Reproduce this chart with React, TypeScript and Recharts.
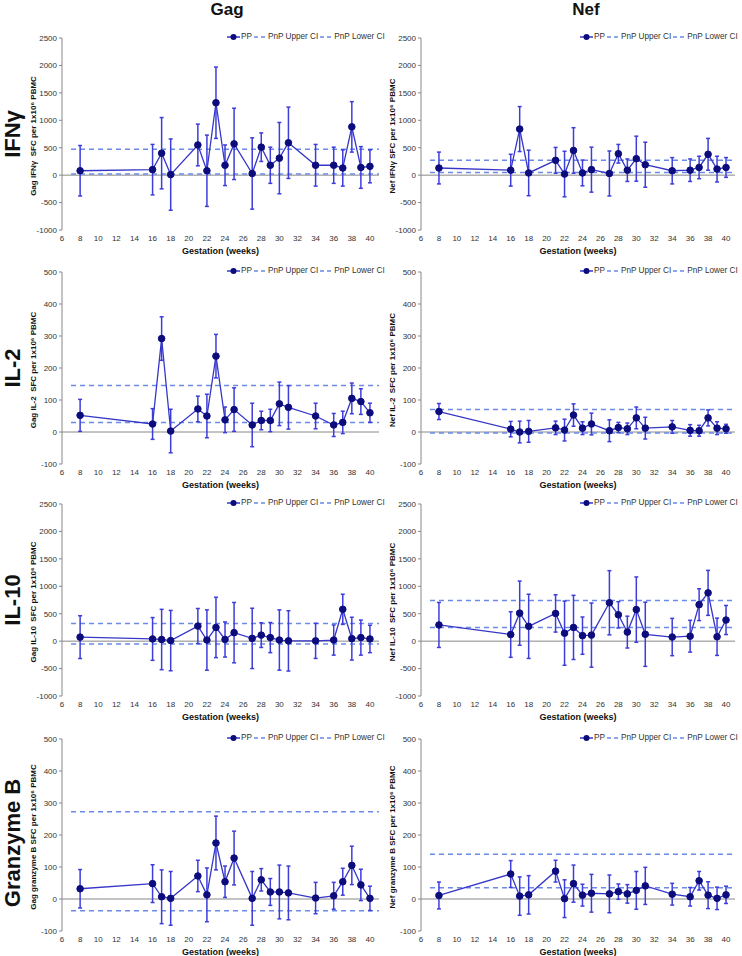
import React from "react";
import { ComposedChart, Line, ErrorBar, XAxis, YAxis, ReferenceLine } from "recharts";

// gestation weeks sampled
const weeks = [8, 16, 17, 18, 21, 22, 23, 24, 25, 27, 28, 29, 30, 31, 34, 36, 37, 38, 39, 40];
const weekTicks = [6, 8, 10, 12, 14, 16, 18, 20, 22, 24, 26, 28, 30, 32, 34, 36, 38, 40];
const wideTicks = [-1000, -500, 0, 500, 1000, 1500, 2000, 2500];
const narrowTicks = [-100, 0, 100, 200, 300, 400, 500];

const gagIfng = [80, 100, 400, 10, 550, 80, 1320, 180, 570, 30, 510, 180, 310, 590, 180, 180, 130, 880, 140, 160];
const gagIfngErr = [460, 460, 650, 650, 380, 650, 650, 370, 650, 650, 260, 330, 650, 650, 380, 330, 330, 460, 380, 300];
const gagIfngCi = [20, 470];

const nefIfng = [130, 90, 840, 40, 270, 20, 450, 40, 100, 30, 390, 90, 300, 190, 80, 90, 140, 380, 110, 140];
const nefIfngErr = [290, 290, 410, 415, 235, 415, 415, 235, 410, 410, 170, 205, 410, 410, 240, 205, 205, 290, 235, 180];
const nefIfngCi = [50, 270];

const gagIl2 = [52, 25, 292, 3, 72, 50, 237, 38, 70, 22, 36, 36, 88, 77, 50, 22, 30, 105, 95, 60];
const gagIl2Err = [50, 48, 68, 68, 40, 68, 68, 40, 68, 68, 29, 35, 68, 68, 40, 36, 35, 48, 40, 30];
const gagIl2Ci = [30, 145];

const nefIl2 = [64, 9, 0, 2, 13, 6, 53, 12, 25, 4, 14, 10, 44, 12, 16, 5, 4, 44, 12, 10];
const nefIl2Err = [25, 24, 34, 34, 21, 34, 35, 20, 34, 34, 16, 18, 34, 34, 20, 18, 17, 25, 20, 14];
const nefIl2Ci = [-3, 70];

const gagIl10 = [73, 40, 30, 10, 275, 20, 250, 30, 155, 50, 110, 65, 20, 5, 5, 20, 580, 45, 65, 40];
const gagIl10Err = [390, 390, 550, 550, 320, 550, 550, 320, 550, 550, 225, 275, 550, 550, 320, 275, 275, 390, 320, 250];
const gagIl10Ci = [-50, 320];

const nefIl10 = [295, 120, 510, 270, 505, 145, 250, 100, 110, 700, 480, 165, 575, 125, 75, 90, 665, 880, 80, 385];
const nefIl10Err = [410, 415, 585, 585, 340, 585, 585, 340, 585, 585, 240, 290, 595, 585, 340, 290, 290, 410, 340, 265];
const nefIl10Ci = [250, 740];

const gagGrb = [32, 48, 7, 2, 72, 13, 175, 54, 128, 2, 60, 22, 22, 19, 3, 10, 54, 105, 44, 2];
const gagGrbErr = [60, 59, 84, 84, 49, 84, 84, 49, 84, 84, 35, 42, 84, 84, 49, 42, 42, 60, 49, 38];
const gagGrbCi = [-37, 273];

const nefGrb = [11, 78, 9, 13, 87, 1, 48, 12, 18, 16, 23, 16, 27, 41, 15, 7, 57, 12, 2, 13];
const nefGrbErr = [42, 42, 60, 60, 34, 59, 58, 34, 59, 59, 24, 29, 59, 58, 34, 29, 29, 42, 35, 27];
const nefGrbCi = [35, 140];

const rowLabels = ["IFNγ", "IL-2", "IL-10", "Granzyme B"];
const plotTops = [38, 272, 504, 739];

const FONT = "Arial, 'Liberation Sans', sans-serif";
const LINE = "#3636c8";
const DOT = "#0c0c7c";
const BAR = "#3d3ddc";
const CI = "#6a8ae6";
const AXIS = "#888";
const PLOT_H = 192;
const Y_W = 30;

function LegendRow({ left, top }: { left: number; top: number }) {
  const dash = (
    <svg width={12} height={8} style={{ margin: "0 2px 0 2px" }}>
      <line x1={0} y1={4} x2={12} y2={4} stroke={CI} strokeWidth={1.5} strokeDasharray="4 3" />
    </svg>
  );
  return (
    <div
      style={{
        position: "absolute",
        left,
        top,
        display: "flex",
        alignItems: "center",
        fontSize: 8.2,
        lineHeight: "12px",
        color: "#333",
        whiteSpace: "nowrap",
        fontFamily: FONT,
      }}
    >
      <svg width={13} height={8} style={{ marginRight: 1 }}>
        <line x1={0} y1={4} x2={13} y2={4} stroke={LINE} strokeWidth={1.5} />
        <circle cx={6.5} cy={4} r={3} fill={DOT} />
      </svg>
      <span>PP</span>
      {dash}
      <span>PnP Upper CI</span>
      {dash}
      <span>PnP Lower CI</span>
    </div>
  );
}

function Rotated({ x, y, text, size, weight }: { x: number; y: number; text: string; size: number; weight: number }) {
  return (
    <div
      style={{
        position: "absolute",
        left: x,
        top: y,
        transform: "translate(-50%, -50%) rotate(-90deg)",
        fontSize: size,
        fontWeight: weight,
        whiteSpace: "pre",
        color: "#111",
        fontFamily: FONT,
      }}
    >
      {text}
    </div>
  );
}

type PanelProps = {
  values: number[];
  errors: number[];
  ci: number[];
  ticks: number[];
  yTitle: string;
  side: "left" | "right";
  plotTop: number;
};

function Panel({ values, errors, ci, ticks, yTitle, side, plotTop }: PanelProps) {
  const data = weeks.map((w, i) => ({ week: w, pp: values[i], err: errors[i] }));
  const isLeft = side === "left";
  const left = isLeft ? 0 : 371;
  const width = isLeft ? 385 : 371;
  const plotLeft = isLeft ? 62 : 50;
  const marginRight = isLeft ? 6 : 7;
  const top = plotTop - 20;
  return (
    <>
      <div style={{ position: "absolute", left, top }}>
        <ComposedChart
          width={width}
          height={238}
          data={data}
          margin={{ top: 20, right: marginRight, bottom: 2, left: plotLeft - Y_W }}
          style={{ fontFamily: FONT }}
        >
          <XAxis
            type="number"
            dataKey="week"
            domain={[6, 41]}
            ticks={weekTicks}
            interval={0}
            allowDataOverflow
            axisLine={false}
            tickLine={false}
            tickSize={0}
            tickMargin={5}
            height={24}
            tick={{ fontSize: 8, fill: "#333" }}
            label={{
              value: "Gestation (weeks)",
              position: "insideBottom",
              offset: 0,
              style: { fontSize: 9, fontWeight: 700, fill: "#111" },
            }}
          />
          <YAxis
            type="number"
            domain={[ticks[0], ticks[ticks.length - 1]]}
            ticks={ticks}
            interval={0}
            width={Y_W}
            allowDataOverflow
            axisLine={{ stroke: AXIS }}
            tickLine={{ stroke: AXIS }}
            tickSize={3}
            tickMargin={2}
            tick={{ fontSize: 8, fill: "#333" }}
          />
          <ReferenceLine y={0} stroke={AXIS} strokeWidth={1} />
          <ReferenceLine
            segment={[
              { x: 7, y: ci[1] },
              { x: 41, y: ci[1] },
            ]}
            stroke={CI}
            strokeWidth={1.5}
            strokeDasharray="5 4"
          />
          <ReferenceLine
            segment={[
              { x: 7, y: ci[0] },
              { x: 41, y: ci[0] },
            ]}
            stroke={CI}
            strokeWidth={1.5}
            strokeDasharray="5 4"
          />
          <Line
            dataKey="pp"
            stroke={LINE}
            strokeWidth={1.3}
            dot={{ r: 3.3, fill: DOT, stroke: DOT, strokeWidth: 1 }}
            isAnimationActive={false}
          >
            <ErrorBar dataKey="err" width={2} stroke={BAR} strokeWidth={1.5} direction="y" />
          </Line>
        </ComposedChart>
      </div>
      <Rotated x={left + plotLeft - 29} y={plotTop + PLOT_H / 2 + 2} text={yTitle} size={8} weight={700} />
      <LegendRow left={isLeft ? 227 : 580} top={plotTop - 7} />
    </>
  );
}

export default function App() {
  const left = [
    { values: gagIfng, errors: gagIfngErr, ci: gagIfngCi, ticks: wideTicks, yTitle: "Gag IFNγ  SFC per 1x10⁶ PBMC" },
    { values: gagIl2, errors: gagIl2Err, ci: gagIl2Ci, ticks: narrowTicks, yTitle: "Gag IL-2  SFC per 1x10⁶ PBMC" },
    { values: gagIl10, errors: gagIl10Err, ci: gagIl10Ci, ticks: wideTicks, yTitle: "Gag IL-10  SFC per 1x10⁶ PBMC" },
    { values: gagGrb, errors: gagGrbErr, ci: gagGrbCi, ticks: narrowTicks, yTitle: "Gag granzyme B SFC per 1x10⁶ PBMC" },
  ];
  const right = [
    { values: nefIfng, errors: nefIfngErr, ci: nefIfngCi, ticks: wideTicks, yTitle: "Nef IFNγ SFC per 1x10⁶ PBMC" },
    { values: nefIl2, errors: nefIl2Err, ci: nefIl2Ci, ticks: narrowTicks, yTitle: "Nef IL-2  SFC per 1x10⁶ PBMC" },
    { values: nefIl10, errors: nefIl10Err, ci: nefIl10Ci, ticks: wideTicks, yTitle: "Nef IL-10  SFC per 1x10⁶ PBMC" },
    { values: nefGrb, errors: nefGrbErr, ci: nefGrbCi, ticks: narrowTicks, yTitle: "Nef granzyme B SFC per 1x10⁶ PBMC" },
  ];
  return (
    <div
      style={{
        position: "absolute",
        left: 0,
        top: 0,
        width: 742,
        height: 956,
        overflow: "hidden",
        background: "#fff",
        fontFamily: FONT,
      }}
    >
      <div style={{ position: "absolute", left: 227, top: 10, transform: "translate(-50%, -50%)", fontSize: 17, fontWeight: 700, color: "#111" }}>
        Gag
      </div>
      <div style={{ position: "absolute", left: 586, top: 10, transform: "translate(-50%, -50%)", fontSize: 17, fontWeight: 700, color: "#111" }}>
        Nef
      </div>
      {rowLabels.map((label, i) => (
        <Rotated key={label} x={13} y={plotTops[i] + PLOT_H / 2 + (i === 3 ? 8 : 0)} text={label} size={22} weight={700} />
      ))}
      {left.map((p, i) => (
        <Panel key={"l" + i} {...p} side="left" plotTop={plotTops[i]} />
      ))}
      {right.map((p, i) => (
        <Panel key={"r" + i} {...p} side="right" plotTop={plotTops[i]} />
      ))}
    </div>
  );
}
